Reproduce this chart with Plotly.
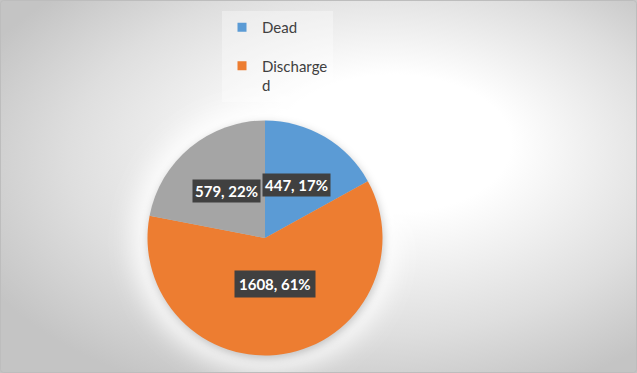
import base64, math
import plotly.graph_objects as go

# ---- data ----
labels = ["Dead", "Discharged", "Other"]
values = [447, 1608, 579]
percents = ["17%", "61%", "22%"]
legend_names = ["Dead", "Discharge<br>d"]

colors = ["#5B9BD5", "#ED7D31", "#A5A5A5"]
W, H = 637, 373
cx, cy, R = 265, 238, 117.5

# background: radial gradient + white glow + soft pie shadow + thin border
svg = f'''<svg xmlns="http://www.w3.org/2000/svg" width="{W}" height="{H}" viewBox="0 0 {W} {H}" preserveAspectRatio="none">
<defs>
<radialGradient id="g" cx="0.56" cy="0.45" r="0.66" fx="0.64" fy="0.36">
<stop offset="0" stop-color="#ffffff"/>
<stop offset="0.28" stop-color="#ffffff"/>
<stop offset="0.72" stop-color="#dedede"/>
<stop offset="1" stop-color="#c4c4c4"/>
</radialGradient>
<filter id="w" x="-40%" y="-40%" width="180%" height="180%"><feGaussianBlur stdDeviation="12"/></filter>
<filter id="b" x="-30%" y="-30%" width="160%" height="160%"><feGaussianBlur stdDeviation="4"/></filter>
</defs>
<rect width="{W}" height="{H}" fill="url(#g)"/>
<circle cx="{cx}" cy="{cy}" r="{R+16}" fill="#ffffff" fill-opacity="0.85" filter="url(#w)"/>
<circle cx="{cx+1}" cy="{cy+3}" r="{R}" fill="rgba(0,0,0,0.22)" filter="url(#b)"/>
<rect x="0.5" y="0.5" width="{W-1}" height="{H-1}" rx="3" fill="none" stroke="#bdbdbd"/>
</svg>'''
src = "data:image/svg+xml;base64," + base64.b64encode(svg.encode()).decode()

fig = go.Figure()
fig.add_trace(go.Pie(
    labels=labels, values=values, sort=False, direction="clockwise", rotation=0,
    marker=dict(colors=colors, line=dict(width=0)),
    textinfo="none", showlegend=False, hoverinfo="label+value+percent",
    domain=dict(x=[(cx - R) / W, (cx + R) / W], y=[1 - (cy + R) / H, 1 - (cy - R) / H]),
))

for name, col in zip(legend_names, colors):
    fig.add_trace(go.Scatter(x=[None], y=[None], mode="markers", name=name, legendgroup=name,
                             marker=dict(symbol="square", size=9, color=col)))

# data labels computed from slice angles
total = sum(values)
cum = 0
anns = []
for v, p in zip(values, percents):
    mid = (cum + v / 2) / total * 2 * math.pi
    cum += v
    rf = 0.52
    px = cx + rf * R * math.sin(mid)
    py = cy - rf * R * math.cos(mid)
    anns.append(dict(
        x=px / W, y=1 - py / H, xref="paper", yref="paper", showarrow=False,
        text=f"<b>{v}, {p}</b>", font=dict(family="Lato, Carlito, sans-serif", size=15, color="white"),
        bgcolor="#404040", borderpad=4 if v == max(values) else 2,
    ))
# draw order: Other first, then Dead on top, then Discharged
order = [2, 0, 1]
fig.update_layout(annotations=[anns[k] for k in order])

fig.update_layout(
    width=W, height=H, margin=dict(l=0, r=0, t=0, b=0),
    paper_bgcolor="white", plot_bgcolor="rgba(0,0,0,0)",
    xaxis=dict(visible=False), yaxis=dict(visible=False),
    images=[dict(source=src, xref="paper", yref="paper", x=0, y=1, sizex=1, sizey=1,
                 xanchor="left", yanchor="top", sizing="stretch", layer="below")],
    legend=dict(x=(262 - 40) / W, y=1 - 11 / H, xanchor="left", yanchor="top",
                font=dict(family="Lato, Carlito, sans-serif", size=15, color="#404040"),
                bgcolor="rgba(255,255,255,0.35)", traceorder="grouped", tracegroupgap=16,
                valign="top"),
)

fig.write_html("out.html")
